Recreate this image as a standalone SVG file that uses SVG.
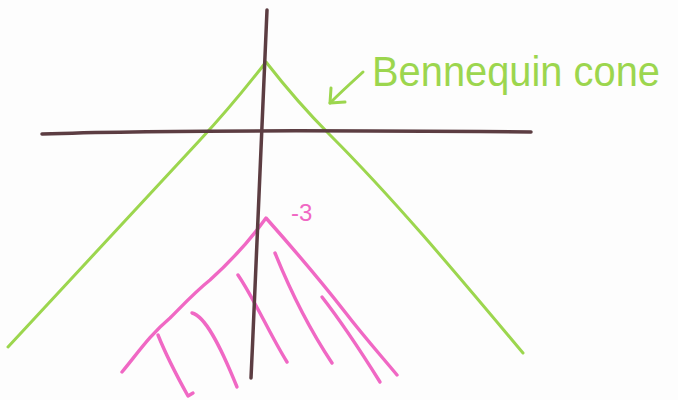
<svg xmlns="http://www.w3.org/2000/svg" width="678" height="400" viewBox="0 0 678 400">
<style>
.ax{fill:none;stroke:#5c3d42;stroke-width:3.5;stroke-linecap:round;stroke-linejoin:round}
.gr{fill:none;stroke:#9cd64e;stroke-width:3;stroke-linecap:round;stroke-linejoin:round}
.pk{fill:none;stroke:#f068c4;stroke-width:3.4;stroke-linecap:round;stroke-linejoin:round}
.lbl{font-family:"Liberation Sans",Arial,sans-serif}
</style>
<rect width="678" height="400" fill="#fdfdfd"/>
<g id="green-cone">
<path class="gr" d="M8,347 C60,290 130,215 200,140 C230,108 252,80 266,62 C280,80 300,105 330,135 C400,205 470,290 523,353"/>
</g>
<g id="pink-cone">
<path class="pk" d="M122,372 C140,350 150,335 170,318 C185,303 195,292 210,280 C230,262 250,240 266,218 C290,245 320,280 345,312 C365,338 383,358 397,375"/>
<path class="pk" d="M158,335 C166,355 178,378 188,396 L193,393"/>
<path class="pk" d="M192,313 C205,316 220,345 237,387"/>
<path class="pk" d="M238,275 C255,300 270,335 287,362"/>
<path class="pk" d="M275,253 C290,290 310,330 332,363"/>
<path class="pk" d="M322,297 C340,320 360,350 380,382"/>
</g>
<g id="axes">
<path class="ax" d="M42,134 C150,130 300,130 531,132"/>
<path class="ax" d="M267,10 C262,120 257,250 251,378"/>
</g>
<g id="labels">
<text class="lbl" x="291" y="221" font-size="24" fill="#f068c4">-3</text>
<text class="lbl" x="372" y="86" font-size="42" fill="#9cd64e" textLength="288" lengthAdjust="spacingAndGlyphs">Bennequin cone</text>
</g>
<g id="connectors">
<path class="gr" d="M363,72 C352,82 340,93 330,103"/>
<path class="gr" d="M331,88 L330,103 L345,102"/>
</g>
</svg>
